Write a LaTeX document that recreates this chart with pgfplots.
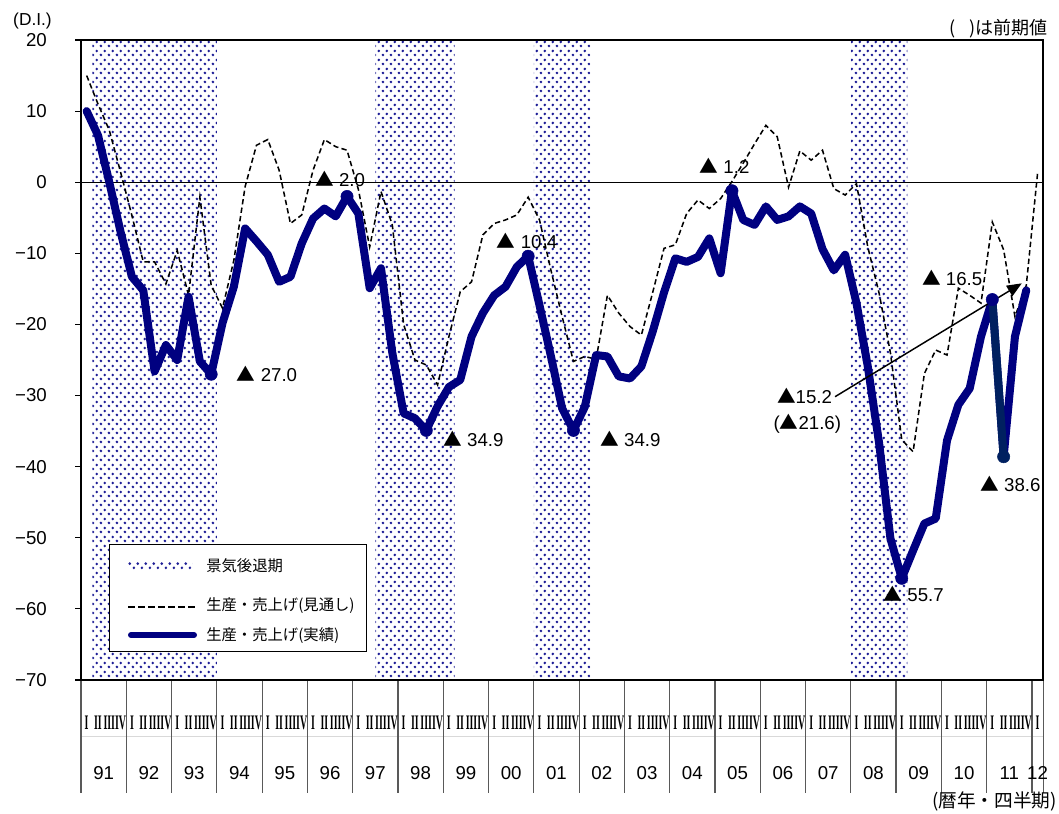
\documentclass[border=0pt]{standalone}
\usepackage{pgfplots}
\pgfplotsset{compat=1.18}
\usepackage{pgfplotstable}
\usepackage{fontspec}
\setmainfont{Liberation Sans}
\newfontfamily\jp{Noto Sans CJK JP}
\newfontfamily\romfont{Liberation Serif}
\usetikzlibrary{patterns,arrows.meta}

\definecolor{actual}{RGB}{0,0,128}
\definecolor{actualdark}{RGB}{0,32,96}
\definecolor{dotblue}{RGB}{30,30,150}

% staggered dot screen for recession periods
\pgfdeclarepatternformonly{recessdots}{\pgfpointorigin}{\pgfpoint{6.225pt}{6.75pt}}{\pgfpoint{6.225pt}{6.75pt}}{%
  \pgfpathcircle{\pgfpoint{1.556pt}{1.69pt}}{1.15pt}%
  \pgfpathcircle{\pgfpoint{4.669pt}{5.06pt}}{1.15pt}%
  \pgfusepath{fill}%
}

\newcommand\tri{{\jp ▲}}
\newcommand\yearlabel[1]{\ifcase#1 91\or92\or93\or94\or95\or96\or97\or98\or99\or00\or01\or02\or03\or04\or05\or06\or07\or08\or09\or10\or11\or12\fi}

% quarter index: 0 = 1991 Q1
\pgfplotstableread{
q v
0 10.0
1 6.6
2 0.0
3 -7.0
4 -13.3
5 -15.2
6 -26.6
7 -22.9
8 -25.0
9 -16.1
10 -25.2
11 -27.0
12 -19.8
13 -14.7
14 -6.5
15 -8.3
16 -10.2
17 -14.0
18 -13.3
19 -8.6
20 -5.1
21 -3.7
22 -4.8
23 -2.0
24 -4.4
25 -14.9
26 -12.1
27 -24.0
28 -32.5
29 -33.2
30 -34.9
31 -31.5
32 -28.8
33 -27.8
34 -21.7
35 -18.4
36 -15.9
37 -14.7
38 -11.9
39 -10.4
40 -17.3
41 -24.4
42 -31.8
43 -34.9
44 -31.6
45 -24.3
46 -24.5
47 -27.3
48 -27.6
49 -25.9
50 -21.0
51 -15.5
52 -10.7
53 -11.2
54 -10.5
55 -7.9
56 -12.8
57 -1.2
58 -5.3
59 -6.0
60 -3.4
61 -5.3
62 -4.8
63 -3.4
64 -4.4
65 -9.4
66 -12.4
67 -10.2
68 -17.0
69 -25.9
70 -36.7
71 -50.1
72 -55.7
73 -51.8
74 -48.0
75 -47.3
76 -36.3
77 -31.3
78 -29.0
79 -21.7
80 -16.5
81 -38.6
82 -21.7
83 -15.2
}\actualtbl

\pgfplotstableread{
q v
0 15.0
1 11.0
2 7.3
3 1.4
4 -4.7
5 -11.2
6 -11.2
7 -14.3
8 -9.6
9 -15.9
10 -2.1
11 -14.5
12 -17.7
13 -11.0
14 -0.6
15 5.2
16 6.0
17 1.7
18 -5.8
19 -4.6
20 1.7
21 6.0
22 5.0
23 4.5
24 -1.0
25 -9.1
26 -1.3
27 -6.0
28 -20.0
29 -25.0
30 -25.7
31 -28.5
32 -21.7
33 -15.4
34 -14.0
35 -7.4
36 -5.8
37 -5.3
38 -4.6
39 -2.1
40 -5.3
41 -12.3
42 -18.9
43 -25.2
44 -24.5
45 -24.9
46 -15.9
47 -18.4
48 -20.3
49 -21.5
50 -15.5
51 -9.3
52 -8.8
53 -4.4
54 -2.5
55 -3.7
56 -2.3
57 0.1
58 2.7
59 5.4
60 8.0
61 6.4
62 -0.7
63 4.4
64 3.1
65 4.5
66 -0.9
67 -1.8
68 -0.2
69 -9.1
70 -15.6
71 -24.0
72 -36.2
73 -37.9
74 -26.9
75 -23.6
76 -24.3
77 -14.9
78 -15.9
79 -17.0
80 -5.6
81 -9.5
82 -18.9
83 -14.5
84 1.3
}\forecasttbl

% turning points that carry a value label
\pgfplotstableread{
q v
11 -27.0
23 -2.0
30 -34.9
39 -10.4
43 -34.9
57 -1.2
72 -55.7
80 -16.5
}\turnstbl

\begin{document}
\begin{tikzpicture}
\useasboundingbox (0,0) rectangle (794.25pt,-609.75pt);
\begin{axis}[
  at={(60.75pt,-510pt)}, anchor=south west,
  scale only axis, width=721.7pt, height=480pt,
  xmin=-0.5, xmax=84.5, ymin=-70, ymax=20,
  axis on top,
  clip=false,
  axis line style={line width=1.6pt},
  ytick={-70,-60,...,20},
  yticklabels={−70,−60,−50,−40,−30,−20,−10,0,10,20},
  ytick pos=left,
  tick align=outside,
  major tick length=4.2pt,
  y tick style={black, line width=0.8pt},
  yticklabel style={anchor=east, inner sep=0pt, xshift=-21.2pt, font=\fontsize{14}{16}\selectfont},
  xtick={0,...,84},
  x tick style={draw=none},
  xticklabel={\pgfmathtruncatemacro\qq{mod(round(\tick),4)}\scalebox{0.48}[1]{\romfont\bfseries\fontsize{15.5}{17}\selectfont\ifcase\qq I\or II\or III\or IV\fi}},
  xticklabel style={anchor=center, inner sep=0pt, yshift=-28.1pt},
]
% recession periods
\addplot[draw=none, pattern=recessdots, pattern color=dotblue] coordinates {(0.5,-70) (0.5,20) (11.5,20) (11.5,-70)} -- cycle;
\addplot[draw=none, pattern=recessdots, pattern color=dotblue] coordinates {(25.5,-70) (25.5,20) (32.5,20) (32.5,-70)} -- cycle;
\addplot[draw=none, pattern=recessdots, pattern color=dotblue] coordinates {(39.5,-70) (39.5,20) (44.5,20) (44.5,-70)} -- cycle;
\addplot[draw=none, pattern=recessdots, pattern color=dotblue] coordinates {(67.5,-70) (67.5,20) (72.5,20) (72.5,-70)} -- cycle;

% zero line
\addplot[black, line width=0.6pt] coordinates {(-0.5,0) (84.5,0)};

% outlook
\addplot[black, line width=1.15pt, dash pattern=on 4pt off 2.4pt] table[x=q, y=v] {\forecasttbl};
% actual
\addplot[actual, line width=6pt, line join=round, line cap=round] table[x=q, y=v] {\actualtbl};
\addplot[actualdark, line width=6pt, line cap=round] coordinates {(80,-16.5) (81,-38.6)};
\addplot[only marks, mark=*, mark size=4.6pt, mark options={draw=actual, fill=actual}] table[x=q, y=v] {\turnstbl};
\addplot[only marks, mark=*, mark size=4.6pt, mark options={draw=actualdark, fill=actualdark}] coordinates {(81,-38.6)};

% value labels
\begin{scope}[every node/.style={anchor=base west, inner sep=0pt, font=\fontsize{14}{16}\selectfont}]
\node at (axis cs:13.25,-28.05) {\tri\ 27.0};
\node at (axis cs:20.17,-0.63) {\tri\ 2.0};
\node at (axis cs:36.22,-9.31) {\tri\ 10.4};
\node at (axis cs:31.48,-37.2) {\tri\ 34.9};
\node at (axis cs:45.35,-37.2) {\tri\ 34.9};
\node at (axis cs:54.12,1.24) {\tri\ 1.2};
\node at (axis cs:73.77,-14.46) {\tri\ 16.5};
\node at (axis cs:78.92,-43.52) {\tri\ 38.6};
\node at (axis cs:70.37,-58.99) {\tri\ 55.7};
\node at (axis cs:60.96,-31.11) {\tri15.2};
\node at (axis cs:60.66,-34.8) {(\tri21.6)};
\end{scope}
\draw[-{Triangle[length=11pt,width=9pt]}, line width=1.1pt] (axis cs:66.11,-30.16) -- (axis cs:82.6,-14.22);

% year rows below the axis
\draw[black!15, line width=0.6pt] ([yshift=-42pt]rel axis cs:0,0) -- ([yshift=-42pt]rel axis cs:1,0);
\foreach \xx in {-0.5,3.5,...,83.5,84.5}{%
  \edef\tmp{\noexpand\draw[black!65, line width=0.9pt] (axis cs:\xx,-70) -- ([yshift=-84.75pt]axis cs:\xx,-70);}\tmp}
\foreach \k in {0,...,20}{%
  \pgfmathsetmacro\xx{4*\k+1.5}%
  \edef\tmp{\noexpand\node[inner sep=0pt, anchor=center, yshift=-70pt, font=\noexpand\fontsize{14}{16}\noexpand\selectfont] at (axis cs:\xx,-70) {\noexpand\yearlabel{\k}};}\tmp}
\node[inner sep=0pt, anchor=center, yshift=-70pt, font=\fontsize{14}{16}\selectfont] at (axis cs:84,-70) {12};
\end{axis}

\begin{scope}[x=0.75pt, y=-0.75pt]
% legend
\fill[white] (109.3,544.3) rectangle (366,651);
\draw[black, line width=0.75pt] (109.3,544.3) rectangle (366,651);
\fill[pattern=recessdots, pattern color=dotblue] (128,562) rectangle (192,570);
\draw[black, line width=1.2pt, dash pattern=on 5pt off 2.5pt] (128.3,606.7) -- (196.7,606.7);
\draw[actual, line width=4.5pt, line cap=round] (131,635) -- (194,635);
\begin{scope}[every node/.style={anchor=west, inner sep=0pt, font=\jp\fontsize{11.5}{13}\selectfont}]
\node at (206,566) {景気後退期};
\node at (206,606) {生産・売上げ(見通し)};
\node at (206,635.5) {生産・売上げ(実績)};
\end{scope}
% corner notes
\node[inner sep=0pt, anchor=center, font=\fontsize{13}{15}\selectfont] at (32.5,21) {(D.I.)};
\node[inner sep=0pt, anchor=east, font=\jp\fontsize{13.5}{15}\selectfont] at (1048,29) {(\hspace{0.8em})は前期値};
\node[inner sep=0pt, anchor=east, font=\jp\fontsize{14}{16}\selectfont] at (1057,801) {(暦年・四半期)};
\end{scope}
\end{tikzpicture}
\end{document}
